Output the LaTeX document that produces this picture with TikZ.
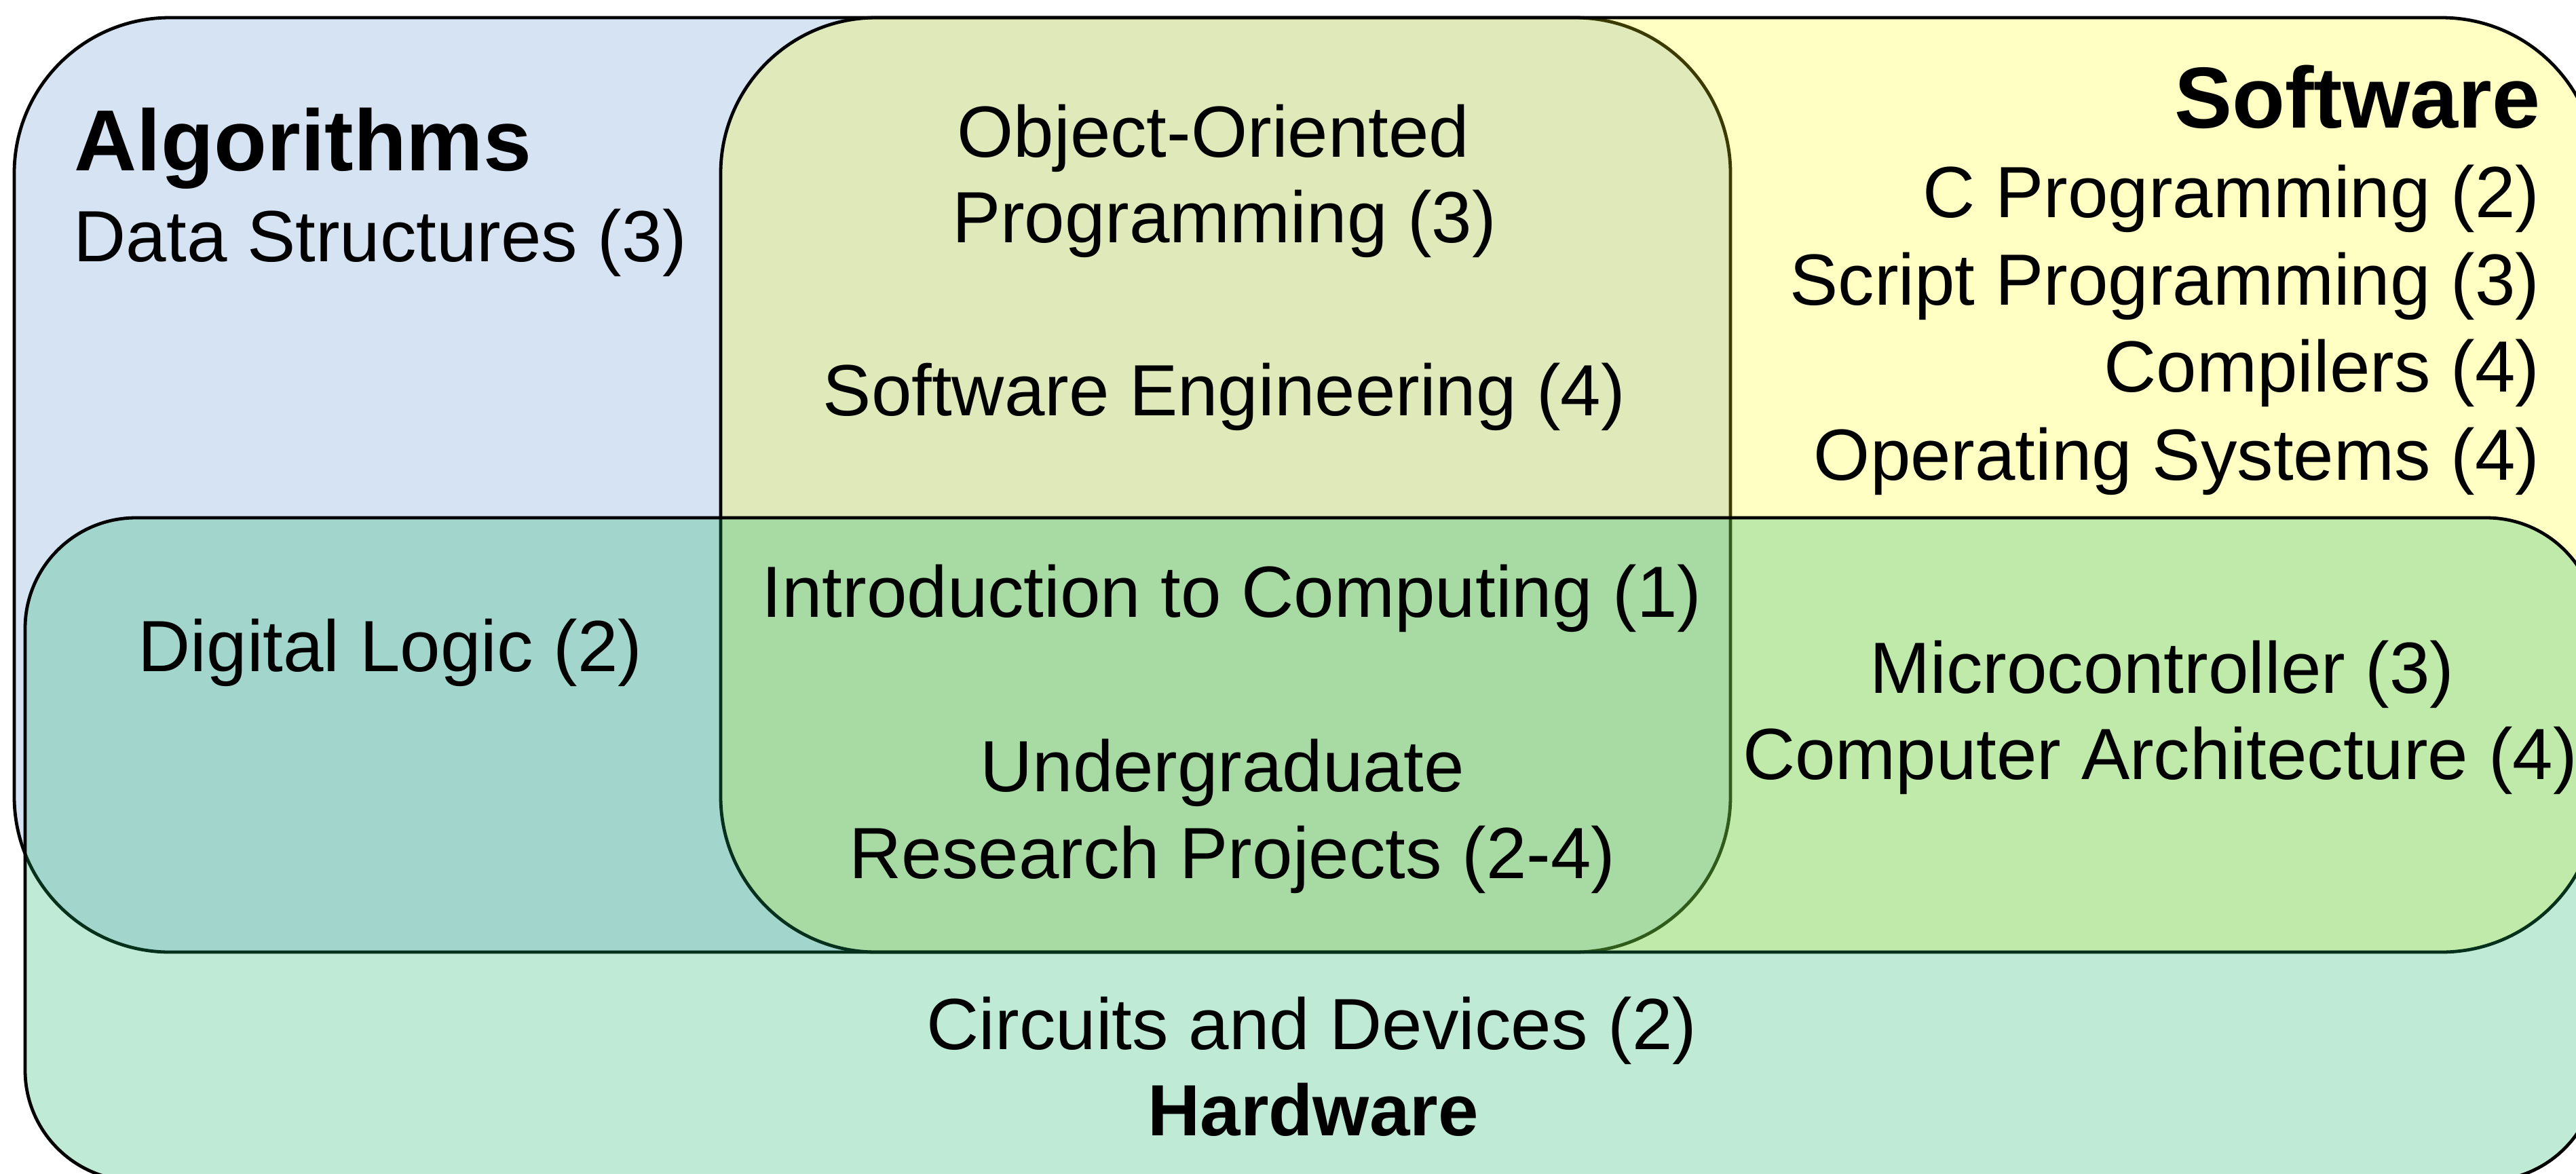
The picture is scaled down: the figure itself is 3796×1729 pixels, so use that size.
\documentclass[tikz,border=0pt]{standalone}
\usepackage{fontspec}
\setmainfont{Liberation Sans}

% fills of the three sets; the later sets are translucent so overlaps mix
\definecolor{algblue}{RGB}{214,227,243}
\definecolor{softyellow}{RGB}{255,255,0}
\definecolor{hardgreen}{RGB}{22,181,103}

\begin{document}
\begin{tikzpicture}[x=0.01cm, y=-0.01cm,
  setline/.style={line width=0.048cm, draw=black},
  algset/.style={setline, fill=algblue, rounded corners=2.29cm},
  softset/.style={setline, fill=softyellow, fill opacity=0.23, rounded corners=2.29cm},
  hardset/.style={setline, fill=hardgreen, fill opacity=0.27, rounded corners=1.63cm},
  coursetext/.style={inner sep=0pt, text=black, font=\fontsize{30.4pt}{36pt}\selectfont},
  settitle/.style={inner sep=0pt, text=black, font=\fontsize{36.3pt}{43pt}\selectfont\bfseries},
  smalltitle/.style={inner sep=0pt, text=black, font=\fontsize{30.4pt}{36pt}\selectfont\bfseries},
]
\useasboundingbox (0,0) rectangle (3796,1729);
\clip (0,0) rectangle (3796,1729);
\fill[white] (0,0) rectangle (3796,1729);

% the three sets
\draw[algset]  (21,26)   rectangle (2550,1403);
\draw[softset] (1062,26) rectangle (3827,1403);
\draw[hardset] (37,763)  rectangle (3827,1740);

% Algorithms only
\node[settitle, anchor=base west]   (alg)    at (109,251)  {Algorithms};
\node[coursetext, anchor=base west] (ds)     at (108,385)  {Data Structures (3)};

% Software only
\node[settitle, anchor=base east]   (sw)     at (3744,188) {Software};
\node[coursetext, anchor=base east] (cprog)  at (3743,320) {C Programming (2)};
\node[coursetext, anchor=base east] (script) at (3743,449) {Script Programming (3)};
\node[coursetext, anchor=base east] (comp)   at (3743,577) {Compilers (4)};
\node[coursetext, anchor=base east] (os)     at (3743,707) {Operating Systems (4)};

% Algorithms and Software
\node[coursetext, anchor=base] (oop1) at (1788,231) {Object-Oriented};
\node[coursetext, anchor=base] (oop2) at (1804,357) {Programming (3)};
\node[coursetext, anchor=base] (se)   at (1804,612) {Software Engineering (4)};

% all three
\node[coursetext, anchor=base] (intro) at (1815,909)  {Introduction to Computing (1)};
\node[coursetext, anchor=base] (urp1)  at (1801,1166) {Undergraduate};
\node[coursetext, anchor=base] (urp2)  at (1816,1294) {Research Projects (2-4)};

% Algorithms and Hardware
\node[coursetext, anchor=base] (dl) at (575,989) {Digital Logic (2)};

% Software and Hardware
\node[coursetext, anchor=base] (mc) at (3186,1021) {Microcontroller (3)};
\node[coursetext, anchor=base] (ca) at (3183,1148) {Computer Architecture (4)};

% Hardware only
\node[coursetext, anchor=base] (cd) at (1933,1546) {Circuits and Devices (2)};
\node[smalltitle, anchor=base] (hw) at (1935,1673) {Hardware};
\end{tikzpicture}
\end{document}
